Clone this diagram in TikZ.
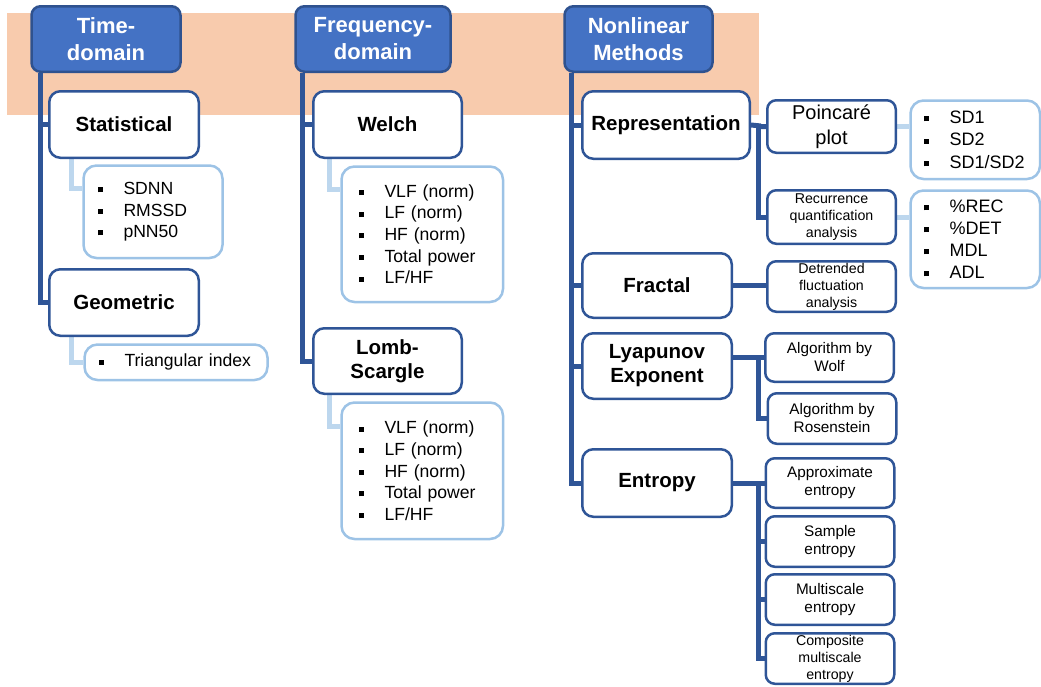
\documentclass[tikz,border=0pt]{standalone}
\usepackage{fontspec}
\setmainfont{Liberation Sans}
\usetikzlibrary{calc, positioning, backgrounds}

\definecolor{bandpeach}{HTML}{F8CBAD}
\definecolor{headfill}{HTML}{4472C4}
\definecolor{headline}{HTML}{2F528F}
\definecolor{boxline}{HTML}{2F5597}
\definecolor{listline}{HTML}{9DC3E6}
\definecolor{leafline}{HTML}{BDD7EE}

\newcommand\sqitem{\rule[2.2pt]{5pt}{5pt}\hspace{21pt}}

\tikzset{
    header/.style = {
        draw=headline, fill=headfill, line width=2.5pt, rounded corners=9pt,
        text=white, align=center, inner sep=0pt,
        minimum width=149pt, minimum height=65.5pt,
        font=\fontsize{22}{27}\selectfont\bfseries
    },
    method/.style = {
        draw=boxline, fill=white, line width=2.5pt, rounded corners=11pt,
        align=center, inner sep=0pt, minimum width=149.5pt, minimum height=66.5pt,
        font=\fontsize{20.5}{24}\selectfont\bfseries
    },
    algo/.style = {
        draw=boxline, fill=white, line width=2.5pt, rounded corners=9pt,
        align=center, inner sep=0pt, minimum width=128.5pt, minimum height=50.5pt,
        font=\fontsize{15.3}{18}\selectfont
    },
    tinyalgo/.style = {algo, font=\fontsize{14.2}{17}\selectfont},
    listbox/.style = {
        draw=listline, fill=white, line width=2.5pt, rounded corners=13pt,
        anchor=north west, align=left, inner xsep=14pt, inner ysep=0pt,
        font=\fontsize{17.6}{21.6}\selectfont
    },
    trunk/.style = {draw=boxline, line width=5pt},
    leaf/.style = {draw=leafline, line width=5pt},
}

\begin{document}
\begin{tikzpicture}[x=1pt, y=-1pt]
    \useasboundingbox (0,0) rectangle (1041,686);

    % Headers
    \node[header] (td) at (106,39) {Time-\\domain};
    \node[header, minimum width=155pt] (fd) at (373,39) {Frequency-\\domain};
    \node[header, minimum width=148pt] (nl) at (638.5,39) {Nonlinear\\Methods};

    % Time-domain
    \node[method] (stat) at (124,124.5) {Statistical};
    \node[method] (geo) at (124,302.5) {Geometric};
    \node[listbox, text width=111pt, minimum height=92.5pt] (statlist) at (82.25,164.25)
        {\sqitem SDNN\\\sqitem RMSSD\\\sqitem pNN50};
    \node[listbox, text width=155pt, minimum height=35.5pt] (trilist) at (83.25,343.25)
        {\sqitem Triangular index};

    % Frequency-domain
    \node[method, minimum width=148.5pt] (welch) at (387.5,124.5) {Welch};
    \node[method, minimum width=148.5pt, minimum height=65.5pt] (lomb) at (387.5,361) {Lomb-\\Scargle};
    \node[listbox, inner xsep=17pt, text width=127.5pt, minimum height=135.5pt] (wlist) at (340.25,165.25)
        {\sqitem VLF (norm)\\\sqitem LF (norm)\\\sqitem HF (norm)\\\sqitem Total power\\\sqitem LF/HF};
    \node[listbox, inner xsep=17pt, text width=127.5pt, minimum height=136.5pt] (llist) at (340.25,401.25)
        {\sqitem VLF (norm)\\\sqitem LF (norm)\\\sqitem HF (norm)\\\sqitem Total power\\\sqitem LF/HF};

    % Nonlinear methods
    \node[method, minimum width=167.5pt, minimum height=67.5pt] (rep) at (666,125) {Representation};
    \node[method, minimum height=64.5pt] (frac) at (657,285.5) {Fractal};
    \node[method, minimum height=65.5pt] (lyap) at (657,366) {Lyapunov\\Exponent};
    \node[method, minimum height=67.5pt] (ent) at (657,483) {Entropy};

    \node[algo, minimum height=52.5pt, font=\fontsize{20}{25}\selectfont] (pp) at (831.5,126.5) {Poincaré\\plot};
    \node[tinyalgo, minimum height=53.5pt] (rqa) at (831.5,217) {Recurrence\\quantification\\analysis};
    \node[tinyalgo] (dfa) at (831.5,286.5) {Detrended\\fluctuation\\analysis};
    \node[algo, minimum height=48.5pt] (wolf) at (829.5,357.5) {Algorithm by\\Wolf};
    \node[algo] (ros) at (832,418.5) {Algorithm by\\Rosenstein};
    \node[algo, minimum height=49.5pt] (apx) at (830,483) {Approximate\\entropy};
    \node[algo] (samp) at (830,541.5) {Sample\\entropy};
    \node[algo] (multi) at (830,599.5) {Multiscale\\entropy};
    \node[tinyalgo] (comp) at (830,658.5) {Composite\\multiscale\\entropy};

    \node[listbox, inner xsep=13pt, text width=103.5pt, minimum height=78.5pt,
        font=\fontsize{18}{22.5}\selectfont] (sdlist) at (909.25,99.25)
        {\sqitem SD1\\\sqitem SD2\\\sqitem SD1/SD2};
    \node[listbox, inner xsep=13pt, text width=103.5pt, minimum height=97.5pt,
        font=\fontsize{18}{22}\selectfont] (reclist) at (909.25,189.25)
        {\sqitem \%REC\\\sqitem \%DET\\\sqitem MDL\\\sqitem ADL};

    \begin{scope}[on background layer]
        % band behind the headers
        \fill[bandpeach] (7,13) rectangle (759,115);

        % trunks
        \coordinate (tdroot) at ([xshift=10.5pt]td.south west);
        \coordinate (fdroot) at ([xshift=8.5pt]fd.south west);
        \coordinate (nlroot) at ([xshift=8.5pt]nl.south west);
        \foreach \n in {stat, geo}
            \draw[trunk] (tdroot) |- (\n.west);
        \foreach \n in {welch, lomb}
            \draw[trunk] (fdroot) |- (\n.west);
        \foreach \n in {rep, frac, lyap, ent}
            \draw[trunk] (nlroot) |- (\n.west);

        % branches to the methods
        \coordinate (bus) at ($(rep.east)!0.5!(pp.west)$);
        \draw[trunk] (rep.east) -- (bus) |- (pp.west);
        \draw[trunk] (bus) |- (rqa.west);
        \draw[trunk] (frac.east) -- (frac.east -| dfa.west);
        \draw[trunk] (wolf.west -| lyap.east) -- (wolf.west);
        \draw[trunk] (wolf.west -| bus) |- (ros.west);
        \draw[trunk] (ent.east) -- (apx.west);
        \draw[trunk] (ent.east -| bus) |- (comp.west);
        \foreach \n in {samp, multi}
            \draw[trunk] (\n.west -| bus) -- (\n.west);

        % leaves to the lists
        \draw[leaf] ([xshift=23pt]stat.south west) |- ([yshift=-24pt]statlist.north west);
        \draw[leaf] ([xshift=23pt]geo.south west) |- (trilist.west);
        \draw[leaf] ([xshift=17pt]welch.south west) |- ([yshift=-24pt]wlist.north west);
        \draw[leaf] ([xshift=17pt]lomb.south west) |- ([yshift=-25pt]llist.north west);
        \draw[leaf] (pp.east) -- (pp.east -| sdlist.west);
        \draw[leaf] (rqa.east) -- (rqa.east -| reclist.west);
    \end{scope}
\end{tikzpicture}
\end{document}
